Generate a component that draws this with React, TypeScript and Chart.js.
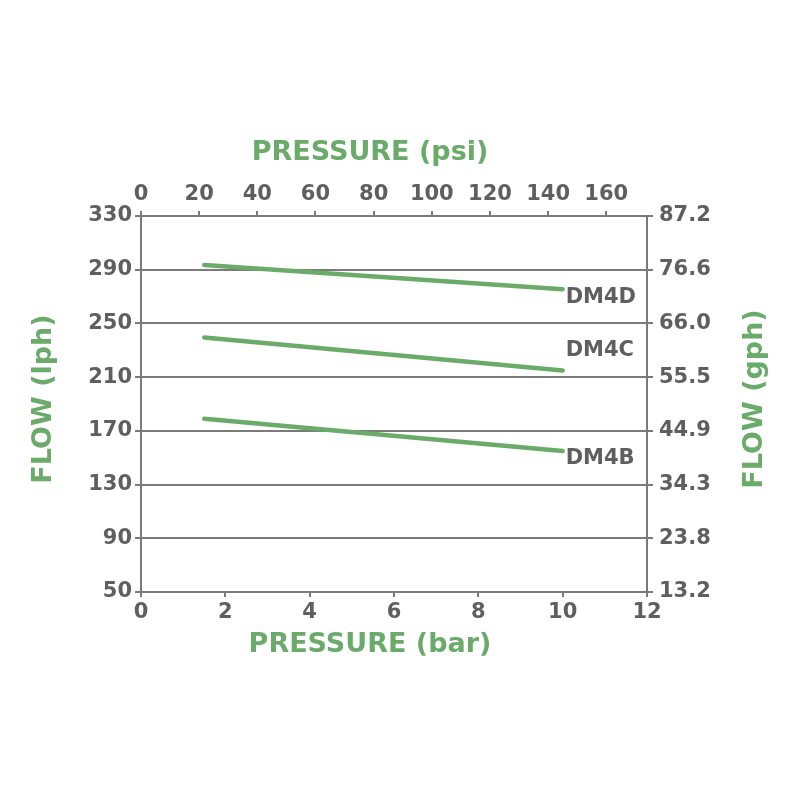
import React, { useEffect, useRef } from "react";
import { Chart, registerables } from "chart.js";

Chart.register(...registerables);

// ---- data ----
const pressureBar = [1.5, 10];
const dm4dFlow = [293.5, 275.5];
const dm4cFlow = [239.5, 215];
const dm4bFlow = [179, 155];
const seriesNames = ["DM4D", "DM4C", "DM4B"];
const barTicks = [0, 2, 4, 6, 8, 10, 12];
const psiTicks = [0, 20, 40, 60, 80, 100, 120, 140, 160];
const lphTicks = [50, 90, 130, 170, 210, 250, 290, 330];
const gphTicks = ["13.2", "23.8", "34.3", "44.9", "55.5", "66.0", "76.6", "87.2"];
const PSI_PER_BAR = 14.5;

const GREEN = "#6aab6a";
const GREY_TEXT = "#5f5f5f";
const GREY_LINE = "#7a7a7a";
const FONT = "'DejaVu Sans', sans-serif";

const labelOffsets = [8, -20, 8];

const overlayPlugin = {
  id: "overlay",
  afterDatasetsDraw(chart: any) {
    const ctx = chart.ctx;
    ctx.save();
    ctx.font = `bold 21px ${FONT}`;
    ctx.fillStyle = GREY_TEXT;
    ctx.textAlign = "left";
    ctx.textBaseline = "middle";
    chart.data.datasets.forEach((ds: any, i: number) => {
      const meta = chart.getDatasetMeta(i);
      const last = meta.data[meta.data.length - 1];
      if (!last) return;
      ctx.fillText(ds.label, last.x + 3, last.y + labelOffsets[i]);
    });
    ctx.restore();
  },
  afterDraw(chart: any) {
    const { ctx, chartArea } = chart;
    const cx = (chartArea.left + chartArea.right) / 2 - 24;
    const cy = (chartArea.top + chartArea.bottom) / 2 - 5;
    ctx.save();
    ctx.font = `bold 27px ${FONT}`;
    ctx.fillStyle = GREEN;
    ctx.textAlign = "center";
    ctx.textBaseline = "middle";
    ctx.fillText("PRESSURE (psi)", cx, chartArea.top - 63);
    ctx.fillText("PRESSURE (bar)", cx, chartArea.bottom + 53);
    ctx.save();
    ctx.translate(chartArea.left - 97, cy);
    ctx.rotate(-Math.PI / 2);
    ctx.fillText("FLOW (lph)", 0, 0);
    ctx.restore();
    ctx.save();
    ctx.translate(chartArea.right + 108, cy);
    ctx.rotate(-Math.PI / 2);
    ctx.fillText("FLOW (gph)", 0, 0);
    ctx.restore();
    ctx.restore();
  },
};

export default function App() {
  const ref = useRef<HTMLCanvasElement>(null);

  useEffect(() => {
    document.body.style.margin = "0";
    if (!ref.current) return;
    const series = [dm4dFlow, dm4cFlow, dm4bFlow];
    const tickFont = { family: FONT, size: 21, weight: "bold" as const };
    const chart = new Chart(ref.current, {
      type: "line",
      data: {
        datasets: series.map((vals, i) => ({
          label: seriesNames[i],
          data: pressureBar.map((x, j) => ({ x, y: vals[j] })),
          borderColor: GREEN,
          borderWidth: 4.5,
          borderCapStyle: "round" as const,
          pointRadius: 0,
          fill: false,
          tension: 0,
        })),
      },
      options: {
        animation: false,
        responsive: true,
        maintainAspectRatio: false,
        layout: { padding: 0 },
        plugins: { legend: { display: false }, tooltip: { enabled: false } },
        scales: {
          x: {
            type: "linear",
            position: "bottom",
            min: 0,
            max: 12,
            afterBuildTicks: (s: any) => {
              s.ticks = barTicks.map((v) => ({ value: v }));
            },
            afterFit: (s: any) => {
              s.height = 208;
            },
            ticks: { color: GREY_TEXT, font: tickFont, padding: 3, maxRotation: 0 },
            grid: { drawOnChartArea: false, color: GREY_LINE, lineWidth: 2, tickLength: 5 },
            border: { display: true, color: GREY_LINE, width: 2 },
          },
          x2: {
            type: "linear",
            position: "top",
            min: 0,
            max: 12 * PSI_PER_BAR,
            afterBuildTicks: (s: any) => {
              s.ticks = psiTicks.map((v) => ({ value: v }));
            },
            afterFit: (s: any) => {
              s.height = 216;
            },
            ticks: { color: GREY_TEXT, font: tickFont, padding: 4, maxRotation: 0 },
            grid: { drawOnChartArea: false, color: GREY_LINE, lineWidth: 2, tickLength: 5 },
            border: { display: true, color: GREY_LINE, width: 2 },
          },
          y: {
            type: "linear",
            position: "left",
            min: 50,
            max: 330,
            afterBuildTicks: (s: any) => {
              s.ticks = lphTicks.map((v) => ({ value: v }));
            },
            afterFit: (s: any) => {
              s.width = 141;
            },
            ticks: { color: GREY_TEXT, font: tickFont, padding: 3 },
            grid: { drawOnChartArea: true, color: GREY_LINE, lineWidth: 2, tickLength: 6 },
            border: { display: true, color: GREY_LINE, width: 2 },
          },
          y2: {
            type: "linear",
            position: "right",
            min: 50,
            max: 330,
            afterBuildTicks: (s: any) => {
              s.ticks = lphTicks.map((v) => ({ value: v }));
            },
            afterFit: (s: any) => {
              s.width = 153;
            },
            ticks: {
              color: GREY_TEXT,
              font: tickFont,
              padding: 6,
              callback: (_v: any, i: number) => gphTicks[i],
            },
            grid: { drawOnChartArea: false, color: GREY_LINE, lineWidth: 2, tickLength: 6 },
            border: { display: true, color: GREY_LINE, width: 2 },
          },
        },
      },
      plugins: [overlayPlugin],
    });
    return () => chart.destroy();
  }, []);

  return (
    <div style={{ width: 800, height: 800, position: "relative", background: "#fff" }}>
      <canvas ref={ref} />
    </div>
  );
}
